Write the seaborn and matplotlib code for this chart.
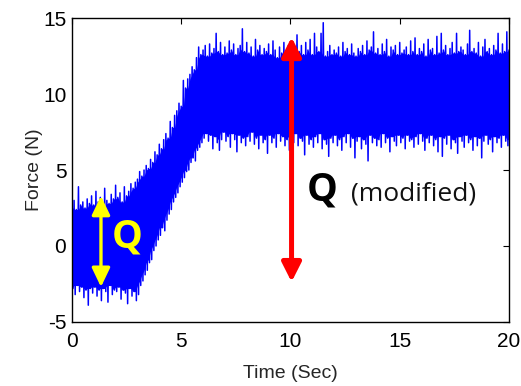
import numpy as np
import pandas as pd
import matplotlib
matplotlib.use("Agg")
import matplotlib.pyplot as plt
import seaborn as sns

# Sampling grid (s) and the read-off peak / trough envelope of the noisy force signal (N)
t_step = 0.1
time_s = np.round(np.arange(0, 20.0 + 1e-9, t_step), 2)

force_peaks = [
    2.6, 3.0, 2.4, 3.9, 2.7, 2.9, 2.5, 3.1, 2.8, 3.3,
    2.7, 3.6, 2.9, 3.2, 2.6, 3.8, 3.0, 2.8, 3.4, 3.1,
    4.0, 3.2, 3.5, 2.9, 3.9, 3.3, 3.6, 4.1, 3.8, 4.2,
    4.4, 4.9, 4.6, 5.0, 5.3, 5.1, 5.7, 5.5, 6.2, 6.0,
    6.7, 6.4, 7.0, 7.4, 7.1, 8.2, 7.8, 8.6, 8.9, 9.4,
    9.2, 10.9, 10.4, 11.0, 11.3, 11.8, 11.6, 12.4, 13.1, 12.6,
    12.9, 13.2, 12.5, 13.3, 12.7, 13.0, 14.0, 12.8, 13.4, 12.6,
    13.1, 12.7, 13.5, 12.9, 13.3, 12.6, 13.0, 13.2, 14.3, 12.8,
    13.4, 12.7, 13.1, 12.5, 13.6, 12.9, 13.2, 12.6, 13.0, 12.8,
    13.3, 12.6, 13.5, 12.9, 12.4, 13.1, 12.7, 13.4, 12.8, 13.2,
    12.7, 13.0, 12.5, 13.9, 12.8, 13.2, 12.6, 13.4, 12.9, 13.6,
    12.6, 14.0, 13.1, 12.8, 14.0, 14.7, 12.5, 12.8, 13.2, 12.6,
    12.9, 12.7, 13.1, 12.5, 13.4, 12.8, 13.0, 12.6, 13.3, 12.7,
    12.5, 13.0, 12.8, 13.2, 12.6, 13.5, 12.9, 13.1, 14.1, 12.7,
    13.0, 12.6, 13.3, 12.8, 13.6, 12.5, 13.1, 12.9, 13.2, 12.6,
    13.4, 12.7, 12.9, 13.1, 12.6, 13.5, 12.8, 13.7, 12.6, 13.0,
    12.8, 13.3, 12.5, 13.6, 12.9, 13.0, 12.6, 13.8, 12.7, 14.0,
    12.9, 13.2, 12.6, 13.0, 13.4, 12.7, 14.0, 12.8, 13.1, 12.9,
    12.6, 13.3, 14.2, 12.8, 13.0, 12.7, 13.4, 12.5, 13.1, 13.6,
    12.8, 13.0, 12.6, 13.2, 12.9, 14.0, 12.7, 13.3, 12.8, 14.1,
    12.9,
]

force_troughs = [
    -2.8, -3.2, -2.6, -3.0, -2.7, -3.4, -2.9, -3.9, -2.8, -3.1,
    -2.7, -3.3, -2.9, -3.6, -2.8, -3.0, -3.7, -2.6, -3.2, -2.9,
    -3.0, -2.7, -3.5, -2.9, -3.1, -3.8, -2.8, -3.3, -3.0, -3.6,
    -3.2, -2.6, -2.3, -1.9, -1.6, -1.1, -0.9, -0.3, 0.0, 0.4,
    0.7, 1.2, 1.0, 1.7, 2.1, 2.4, 2.9, 3.2, 3.5, 3.9,
    4.2, 4.5, 4.9, 5.0, 5.5, 5.8, 5.6, 6.3, 6.5, 6.8,
    7.1, 7.4, 6.9, 7.3, 6.4, 7.2, 6.8, 6.3, 7.0, 7.5,
    6.9, 7.2, 6.5, 7.4, 7.0, 6.2, 7.3, 6.8, 7.1, 6.6,
    7.2, 6.9, 7.5, 6.7, 7.1, 6.4, 7.3, 6.8, 7.0, 6.1,
    7.3, 6.8, 7.1, 6.5, 7.4, 6.9, 7.2, 6.6, 7.0, 6.3,
    7.2, 6.8, 7.4, 6.6, 7.1, 6.9, 6.0, 7.3, 6.7, 7.0,
    6.5, 7.2, 6.8, 7.4, 6.4, 7.0, 6.7, 5.9, 7.1, 6.8,
    7.3, 6.6, 7.0, 6.3, 7.2, 6.8, 7.4, 6.5, 7.1, 5.8,
    6.9, 7.2, 6.4, 7.0, 6.7, 5.6, 7.3, 6.8, 7.1, 6.6,
    7.0, 6.5, 7.4, 6.8, 7.1, 6.2, 7.2, 6.9, 6.6, 7.3,
    6.8, 7.1, 6.4, 7.3, 6.9, 7.0, 6.5, 7.2, 6.7, 7.4,
    6.9, 6.3, 7.1, 6.8, 7.3, 6.6, 7.0, 6.2, 7.2, 5.9,
    7.1, 6.7, 7.3, 6.4, 7.0, 6.8, 6.1, 7.2, 6.9, 6.5,
    7.3, 6.8, 7.0, 6.3, 7.2, 6.6, 7.1, 5.8, 6.9, 7.3,
    6.7, 7.0, 6.2, 7.2, 6.8, 7.1, 6.5, 7.3, 6.9, 6.6,
    7.0,
]

x_ticks = [0, 5, 10, 15, 20]
y_ticks = [-5, 0, 5, 10, 15]
x_label = "Time (Sec)"
y_label = "Force (N)"

# Interleave peaks and troughs into one signal trace
half = t_step / 2
sig_t = np.ravel(np.column_stack([time_s, time_s + half]))
sig_f = np.ravel(np.column_stack([force_peaks, force_troughs]))
df = pd.DataFrame({"t": sig_t, "force": sig_f})
df = df[df["t"] <= 20.0]

# Dense core of the band (where the trace overlaps itself)
core_hi = pd.Series(force_peaks).rolling(3, center=True, min_periods=1).min().to_numpy()
core_lo = pd.Series(force_troughs).rolling(3, center=True, min_periods=1).max().to_numpy()

sns.set_style("white")
plt.rcParams["font.family"] = ["Liberation Sans", "DejaVu Sans"]
plt.rcParams["axes.unicode_minus"] = False

fig = plt.figure(figsize=(5.21, 3.86), dpi=100)
ax = fig.add_axes([0.138, 0.166, 0.839, 0.787])

ax.fill_between(time_s, core_lo, core_hi, color="#0000FF", lw=0)
sns.lineplot(data=df, x="t", y="force", color="#0000FF", linewidth=1.1,
             estimator=None, sort=False, ax=ax)

ax.set_xlim(0, 20)
ax.set_ylim(-5, 15)
ax.set_xticks(x_ticks)
ax.set_yticks(y_ticks)
ax.tick_params(direction="in", length=4, width=0.8, top=True, right=True,
               labelsize=15, colors="black")
ax.tick_params(axis="x", pad=7)
ax.tick_params(axis="y", pad=4)
for sp in ax.spines.values():
    sp.set_visible(True)
    sp.set_color("black")
    sp.set_linewidth(1.0)
ax.set_xlabel(x_label, fontsize=14, labelpad=10)
ax.set_ylabel(y_label, fontsize=14, labelpad=0)

# Yellow double arrow and label
ax.annotate("", xy=(1.33, -2.7), xytext=(1.33, 3.3),
            arrowprops=dict(arrowstyle="<|-|>,head_length=1.15,head_width=0.55",
                            mutation_scale=10, lw=2.4, color="#FFFF00",
                            shrinkA=0, shrinkB=0))
ax.text(2.55, 0.6, "Q", color="#FFFF00", fontsize=28, fontweight="bold",
        ha="center", va="center", family=["Open Sans", "DejaVu Sans"])

# Red double arrow and label
ax.annotate("", xy=(10.05, -2.37), xytext=(10.05, 13.75),
            arrowprops=dict(arrowstyle="<|-|>,head_length=1.15,head_width=0.58",
                            mutation_scale=10, lw=3.6, color="#FF0000",
                            shrinkA=0, shrinkB=0))
ax.text(10.75, 3.7, "Q", color="black", fontsize=28, fontweight="bold",
        ha="left", va="center", family=["Open Sans", "DejaVu Sans"])
ax.text(12.75, 3.45, "(modified)", color="#111111", fontsize=19,
        ha="left", va="center", family=["Open Sans", "DejaVu Sans"])

fig.savefig("out.png", dpi=100)
